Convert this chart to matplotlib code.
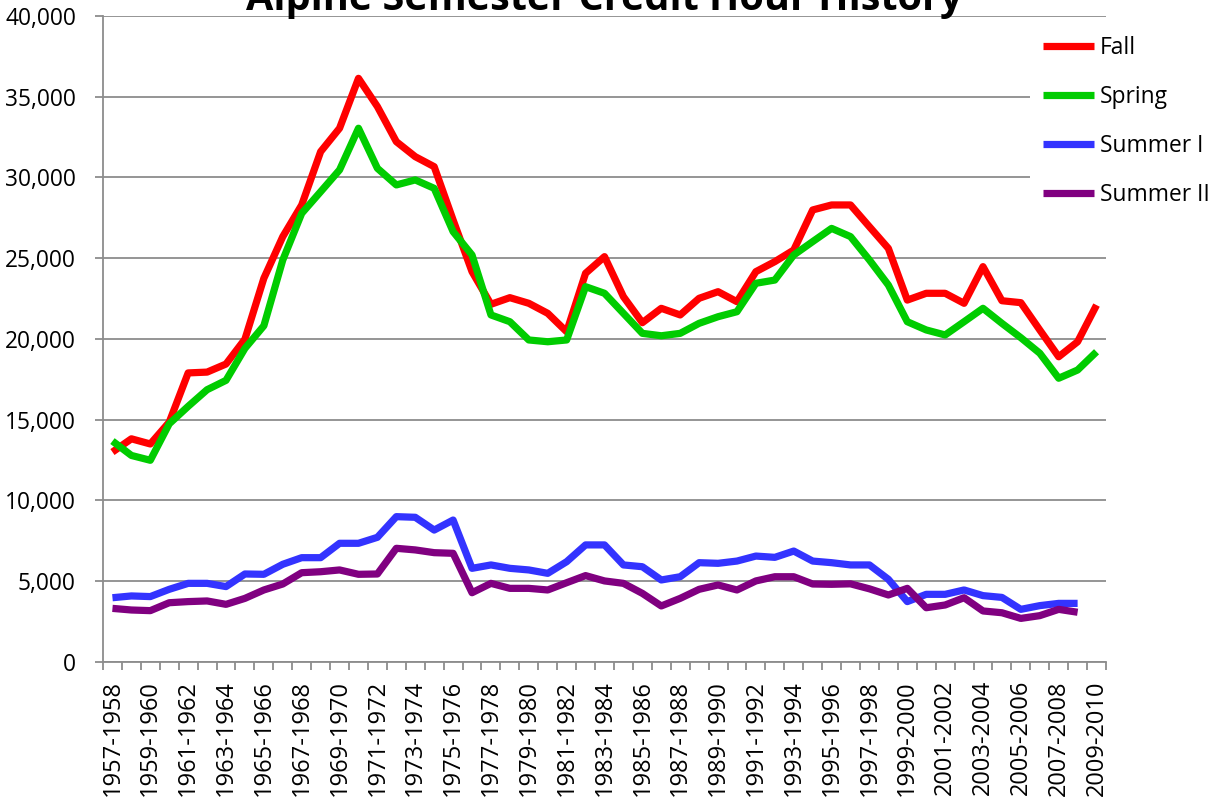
import matplotlib
matplotlib.use("Agg")
import matplotlib.pyplot as plt
from matplotlib.ticker import FuncFormatter, FixedLocator

plt.rcParams['font.family'] = ['Open Sans', 'DejaVu Sans']

years = [f"{y}-{y+1}" for y in range(1957, 2010)]

fall = [13000, 13820, 13500, 14850, 17900, 17950, 18450, 19990, 23760, 26340,
        28300, 31600, 33050, 36140, 34390, 32220, 31290, 30670, 27370, 24170,
        22150, 22560, 22210, 21590, 20450, 24070, 25100, 22620, 21010, 21900,
        21490, 22520, 22930, 22310, 24170, 24790, 25510, 27990, 28300, 28300,
        26950, 25610, 22410, 22830, 22830, 22210, 24480, 22370, 22250, 20560,
        18900, 19830, 22100]

spring = [13680, 12790, 12490, 14750, 15830, 16860, 17440, 19420, 20820, 24890,
          27780, 29120, 30470, 33050, 30570, 29540, 29850, 29330, 26650, 25200,
          21490, 21070, 19940, 19830, 19940, 23240, 22830, 21590, 20350, 20200,
          20350, 20970, 21380, 21690, 23450, 23650, 25200, 26030, 26850, 26340,
          24890, 23340, 21070, 20560, 20250, 21070, 21900, 20970, 20080, 19120,
          17570, 18080, 19210]

summer1 = [3980, 4090, 4050, 4500, 4870, 4870, 4670, 5450, 5430, 6050,
           6460, 6460, 7350, 7350, 7720, 9000, 8960, 8170, 8790, 5800,
           6010, 5800, 5700, 5490, 6210, 7250, 7250, 6010, 5900, 5080,
           5280, 6150, 6110, 6250, 6560, 6480, 6870, 6250, 6150, 6010,
           6010, 5120, 3740, 4190, 4190, 4460, 4110, 4000, 3260, 3490,
           3630, 3630]

summer2 = [3320, 3220, 3180, 3670, 3740, 3780, 3570, 3940, 4460, 4830,
           5530, 5590, 5700, 5430, 5450, 7040, 6940, 6770, 6730, 4290,
           4870, 4560, 4560, 4460, 4910, 5350, 5020, 4870, 4250, 3470,
           3940, 4500, 4770, 4460, 5020, 5280, 5280, 4830, 4810, 4840,
           4530, 4150, 4560, 3360, 3530, 3980, 3160, 3050, 2700, 2870,
           3260, 3080]

series = [("Fall", fall, "#FF0000"),
          ("Spring", spring, "#00CC00"),
          ("Summer I", summer1, "#3333FF"),
          ("Summer II", summer2, "#800080")]

W, H = 1217, 808
fig = plt.figure(figsize=(W / 100, H / 100), dpi=100)
ax = fig.add_axes([103 / W, 1 - 662 / H, (1106 - 103) / W, (662 - 16) / H])

x_all = list(range(len(years)))
for name, vals, col in series:
    ax.plot(x_all[:len(vals)], vals, color=col, lw=5.2, label=name,
            solid_joinstyle='round', solid_capstyle='butt', zorder=3)

ax.set_xlim(-0.5, len(years) - 0.5)
ax.set_ylim(0, 40000)

grid_c = "#8C8C8C"
ax.yaxis.set_major_locator(FixedLocator(range(0, 40001, 5000)))
ax.yaxis.set_major_formatter(FuncFormatter(lambda v, p: f"{int(v):,}"))
ax.yaxis.grid(True, color=grid_c, lw=1.3, zorder=1)
ax.set_axisbelow(True)

lab_idx = list(range(0, len(years), 2))
ax.set_xticks(lab_idx)
ax.set_xticklabels([years[i] for i in lab_idx], rotation=90)
ax.set_xticks([i - 0.5 for i in range(len(years) + 1)], minor=True)
ax.tick_params(axis='x', which='major', length=0, pad=13, labelsize=17)
ax.tick_params(axis='x', which='minor', length=6, width=1.3, color=grid_c)
ax.tick_params(axis='y', which='major', length=6, width=1.3, color=grid_c,
               labelsize=16.4, pad=13.5)

for s in ['top', 'right']:
    ax.spines[s].set_visible(False)
for s in ['left', 'bottom']:
    ax.spines[s].set_color(grid_c)
    ax.spines[s].set_linewidth(1.3)

leg = ax.legend(loc='upper left', bbox_to_anchor=(1030 / W, 1 - 23 / H),
                bbox_transform=fig.transFigure, frameon=True, fontsize=16.4,
                handlelength=2.25, handletextpad=0.28, labelspacing=1.1,
                borderpad=0.55, borderaxespad=0, fancybox=False)
leg.get_frame().set_facecolor('white')
leg.get_frame().set_edgecolor('none')
leg.get_frame().set_alpha(1)
leg.set_zorder(5)
for h in leg.get_lines():
    h.set_linewidth(5.2)

fig.text((103 + 1106) / 2 / W, 1 - 10 / H, "Alpine Semester Credit Hour History",
         ha='center', va='baseline', fontsize=28.5, fontweight='bold')

fig.savefig("out.png", dpi=100)
